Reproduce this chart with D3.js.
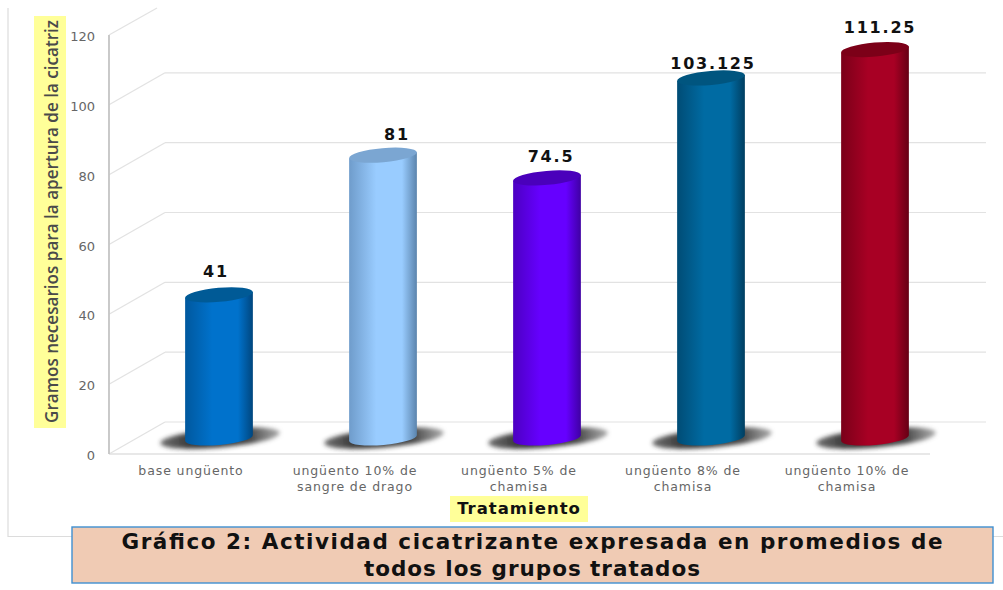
<!DOCTYPE html>
<html><head><meta charset="utf-8">
<script src="https://cdnjs.cloudflare.com/ajax/libs/d3/7.8.5/d3.min.js"></script>
<style>html,body{margin:0;padding:0;background:#fff}svg{display:block}</style>
</head><body><svg id="c" width="1003" height="590"></svg>
<script>
const categories = [["base ungüento"],["ungüento 10% de","sangre de drago"],["ungüento 5% de","chamisa"],["ungüento 8% de","chamisa"],["ungüento 10% de","chamisa"]];
const values = [41,81,74.5,103.125,111.25];
const valueLabels = ["41","81","74.5","103.125","111.25"];
const yTicks = [0,20,40,60,80,100,120];
const yTitle = "Gramos necesarios para la apertura de la cicatriz";
const xTitle = "Tratamiento";
const captionLines = ["Gráfico 2: Actividad cicatrizante expresada en promedios de","todos los grupos tratados"];
const barCenter = ["#0072cc","#99ccff","#6600ff","#006ba3","#a80024"];
const barEdgeL = ["#00589e","#6f9ccb","#4c00c2","#004c75","#7a0019"];
const barEdgeR = ["#00467e","#5b84ad","#3f00a3","#003e60","#660014"];
const barTop = ["#005a96","#7ba6d2","#4a00bb","#00557f","#7c0018"];

const svg = d3.select("#c");
const defs = svg.append("defs");
const y = d3.scaleLinear().domain([0,120]).range([454,35]);
const x = d3.scaleBand().domain(d3.range(5)).range([137,957]);
const depthX = 56, depthY = 32, floorLift = 16, rx = 34, ry = 7, tilt = -5;
const labelDX = [-3,14,4,2,5], labelDY = [-18,-15,-16,-9,-17];
const captionWidths = [821,336];
const cx = i => x(i) + x.bandwidth()/2;

// outer frame
svg.append("path").attr("d","M8,8V536.5H72M993,536.5H1003").attr("fill","none").attr("stroke","#dcdcdc").attr("stroke-width",1.2);

// gridlines
const grid = svg.append("g").attr("fill","none").attr("stroke","#e2e2e2").attr("stroke-width",1.2);
yTicks.forEach(t=>{
  const y0=y(t);
  if(t===120){ grid.append("line").attr("x1",109).attr("y1",y0).attr("x2",157).attr("y2",8); return; }
  grid.append("line").attr("x1",109).attr("y1",y0).attr("x2",109+depthX).attr("y2",y0-depthY);
  grid.append("line").attr("x1",109+depthX).attr("y1",y0-depthY).attr("x2",986).attr("y2",y0-depthY);
});
svg.append("line").attr("x1",109).attr("x2",930).attr("y1",y(0)).attr("y2",y(0)).attr("stroke","#e0e0e0").attr("stroke-width",1.6);
svg.append("line").attr("x1",109).attr("x2",109).attr("y1",y(120)).attr("y2",y(0)).attr("stroke","#c4c4c4").attr("stroke-width",1.8);

// tick labels
svg.append("g").selectAll("text").data(yTicks).join("text")
  .attr("x",95).attr("y",d=>y(d)+6).attr("text-anchor","end")
  .attr("font-family","'DejaVu Sans',sans-serif").attr("font-size",13).attr("fill","#666").text(d=>d);

// y title
svg.append("rect").attr("x",34).attr("y",16).attr("width",32).attr("height",412).attr("fill","#ffff99");
svg.append("text").attr("transform","translate(58,221.5) rotate(-90)").attr("text-anchor","middle")
  .attr("font-family","'Open Sans',sans-serif").attr("font-weight",600).attr("font-size",17.5).attr("fill","#4a4a4a")
  .attr("textLength",403).attr("lengthAdjust","spacingAndGlyphs").text(yTitle);

// shadow
defs.append("filter").attr("id","sb").attr("x","-20%").attr("y","-60%").attr("width","140%").attr("height","220%")
  .append("feGaussianBlur").attr("stdDeviation","2.2");
const sg = defs.append("linearGradient").attr("id","sg");
sg.append("stop").attr("offset","0%").attr("stop-color","#333").attr("stop-opacity",0.7);
sg.append("stop").attr("offset","25%").attr("stop-color","#222").attr("stop-opacity",0.9);
sg.append("stop").attr("offset","75%").attr("stop-color","#333").attr("stop-opacity",0.9);
sg.append("stop").attr("offset","100%").attr("stop-color","#666").attr("stop-opacity",0.55);

// bars
const barsG = svg.append("g");
values.forEach((v,i)=>{
  const c = cx(i), base = y(0)-floorLift, top = y(v)-floorLift;
  const g = defs.append("linearGradient").attr("id","b"+i);
  g.append("stop").attr("offset","0%").attr("stop-color",barEdgeL[i]);
  g.append("stop").attr("offset","40%").attr("stop-color",barCenter[i]);
  g.append("stop").attr("offset","78%").attr("stop-color",barCenter[i]);
  g.append("stop").attr("offset","100%").attr("stop-color",barEdgeR[i]);
  barsG.append("ellipse").attr("cx",c+1).attr("cy",base).attr("rx",60).attr("ry",9.5)
    .attr("transform",`rotate(${tilt} ${c+1} ${base})`).attr("fill","url(#sg)").attr("filter","url(#sb)");
  const tx = rx*Math.cos(tilt*Math.PI/180), ty = rx*Math.sin(tilt*Math.PI/180);
  barsG.append("path")
    .attr("d",`M${c-tx},${top-ty}L${c-tx},${base-ty}A${rx},${ry} ${tilt} 0 0 ${c+tx},${base+ty}L${c+tx},${top+ty}Z`)
    .attr("fill",`url(#b${i})`);
  barsG.append("ellipse").attr("cx",c).attr("cy",top).attr("rx",rx).attr("ry",ry)
    .attr("transform",`rotate(${tilt} ${c} ${top})`).attr("fill",barTop[i]);
  svg.append("text").attr("x",c+labelDX[i]).attr("y",top+labelDY[i]).attr("text-anchor","middle")
    .attr("font-family","'DejaVu Sans',sans-serif").attr("font-weight",700).attr("font-size",16)
    .attr("letter-spacing",1.8).attr("fill","#111").text(valueLabels[i]);
});

// category labels
categories.forEach((lines,i)=>{
  lines.forEach((l,j)=>{
    svg.append("text").attr("x",cx(i)-28).attr("y",475+j*16).attr("text-anchor","middle")
      .attr("font-family","'DejaVu Sans',sans-serif").attr("font-size",12.5).attr("letter-spacing",0.9).attr("fill","#666").text(l);
  });
});

// x title
svg.append("rect").attr("x",450).attr("y",496).attr("width",138).attr("height",26).attr("fill","#ffff99");
svg.append("text").attr("x",519).attr("y",514).attr("text-anchor","middle")
  .attr("font-family","'DejaVu Sans',sans-serif").attr("font-weight",700).attr("font-size",16.5).attr("letter-spacing",1).attr("fill","#111").text(xTitle);

// caption
svg.append("rect").attr("x",72).attr("y",527).attr("width",921).attr("height",56).attr("fill","#f0cbb4").attr("stroke","#3f8fd0").attr("stroke-width",1.4);
captionLines.forEach((l,i)=>{
  svg.append("text").attr("x",532).attr("y",549+i*27).attr("text-anchor","middle")
    .attr("font-family","'DejaVu Sans',sans-serif").attr("font-weight",700).attr("font-size",21.5)
    .attr("textLength",captionWidths[i]).attr("fill","#111").text(l);
});
</script></body></html>
